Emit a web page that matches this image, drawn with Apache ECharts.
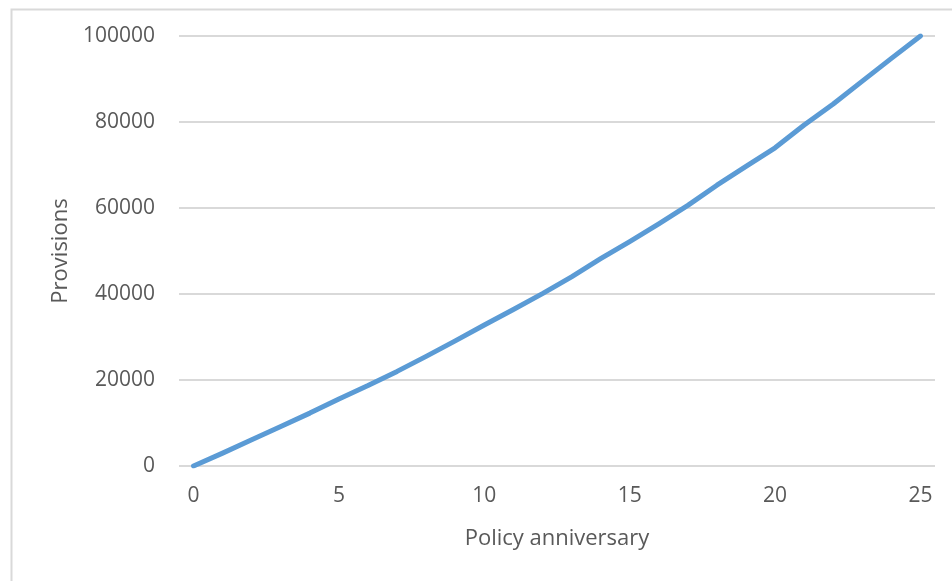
<!DOCTYPE html>
<html>
<head>
<meta charset="utf-8">
<script src="https://cdn.jsdelivr.net/npm/echarts@6/dist/echarts.min.js"></script>
<style>
  html, body { margin: 0; padding: 0; background: #ffffff; }
  #chart { width: 952px; height: 581px; }
</style>
</head>
<body>
<div id="chart"></div>
<script>
// Policy anniversaries (years since inception)
const years = [0,1,2,3,4,5,6,7,8,9,10,11,12,13,14,15,16,17,18,19,20,21,22,23,24,25];
// Provisions held at each anniversary
const provisions = [0,3000,6100,9200,12300,15600,18700,22000,25500,29100,32800,36400,40100,44000,48200,52200,56300,60600,65300,69700,74000,79300,84200,89500,94800,100000];
const yTicks = { min: 0, max: 100000, step: 20000 };

const textColor = '#595959';
const fontFamily = '"Open Sans", "Liberation Sans", sans-serif';

const chart = echarts.init(document.getElementById('chart'), null, { renderer: 'canvas' });
chart.setOption({
  animation: false,
  backgroundColor: '#ffffff',
  graphic: [{
    type: 'rect',
    left: 9, top: 7,
    shape: { width: 1200, height: 900 },
    style: { fill: 'none', stroke: '#d9d9d9', lineWidth: 2 },
    silent: true, z: -1
  }],
  grid: { left: 179, right: 17, top: 36, bottom: 115 },
  xAxis: {
    type: 'category',
    data: years.map(String),
    boundaryGap: true,
    name: 'Policy anniversary',
    nameLocation: 'middle',
    nameGap: 62,
    nameTextStyle: { color: textColor, fontSize: 22, fontFamily },
    axisLine: { show: false },
    axisTick: { show: false },
    axisLabel: { interval: 4, color: textColor, fontSize: 21, fontFamily, margin: 20 },
    splitLine: { show: false }
  },
  yAxis: {
    type: 'value',
    min: yTicks.min, max: yTicks.max, interval: yTicks.step,
    name: 'Provisions',
    nameLocation: 'middle',
    nameGap: 106,
    nameRotate: 90,
    nameTextStyle: { color: textColor, fontSize: 22, fontFamily },
    axisLine: { show: false },
    axisTick: { show: false },
    axisLabel: { color: textColor, fontSize: 21, fontFamily, margin: 24, formatter: v => String(v) },
    splitLine: { lineStyle: { color: '#d9d9d9', width: 2 } }
  },
  series: [{
    type: 'line',
    data: provisions,
    symbol: 'none',
    lineStyle: { color: '#5b9bd5', width: 5, cap: 'round', join: 'round' },
    itemStyle: { color: '#5b9bd5' }
  }]
});
</script>
</body>
</html>
